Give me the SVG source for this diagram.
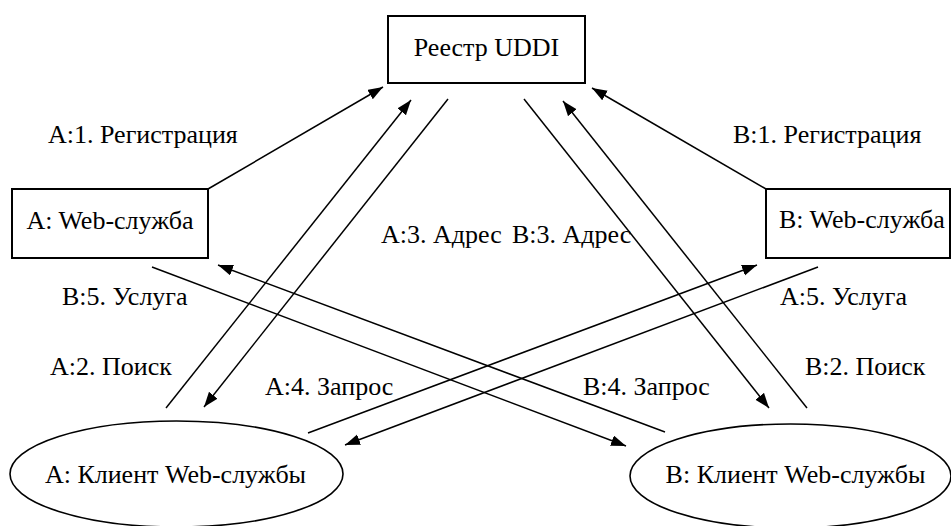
<svg xmlns="http://www.w3.org/2000/svg" width="951" height="526" viewBox="0 0 951 526">
<style>
.box{fill:#fff;stroke:#000;stroke-width:2}
.ell{fill:#fff;stroke:#000;stroke-width:1.6}
.ln{stroke:#000;stroke-width:1.5;fill:none;marker-end:url(#ah)}
text{font-family:"Liberation Serif","Times New Roman",serif;font-size:26px;fill:#000}
.c{text-anchor:middle}
</style>
<defs>
<marker id="ah" markerUnits="userSpaceOnUse" markerWidth="16" markerHeight="12" refX="15" refY="5.5" orient="auto">
<path d="M0,0 L15,5.5 L0,11 z" fill="#000"/>
</marker>
</defs>
<g id="connectors">
<line class="ln" x1="208" y1="189" x2="383" y2="87"/>
<line class="ln" x1="766" y1="189" x2="592" y2="88"/>
<line class="ln" x1="166" y1="408" x2="411" y2="100"/>
<line class="ln" x1="448" y1="99" x2="204" y2="407"/>
<line class="ln" x1="524" y1="99" x2="769" y2="408"/>
<line class="ln" x1="807" y1="408" x2="563" y2="101"/>
<line class="ln" x1="152" y1="267" x2="626" y2="446"/>
<line class="ln" x1="665" y1="432" x2="218" y2="265"/>
<line class="ln" x1="308" y1="433" x2="757" y2="265"/>
<line class="ln" x1="818" y1="267" x2="345" y2="445"/>
<text x="48" y="143">A:1. Регистрация</text>
<text x="733" y="143">B:1. Регистрация</text>
<text x="381" y="243">A:3. Адрес</text>
<text x="512" y="243">B:3. Адрес</text>
<text x="62" y="305">B:5. Услуга</text>
<text x="780" y="305">A:5. Услуга</text>
<text x="50" y="375">A:2. Поиск</text>
<text x="805" y="375">B:2. Поиск</text>
<text x="265" y="395">A:4. Запрос</text>
<text x="583" y="395">B:4. Запрос</text>
</g>
<g id="registry">
<rect class="box" x="388" y="16" width="197" height="67"/>
<text class="c" x="486.5" y="56">Реестр UDDI</text>
</g>
<g id="serviceA">
<rect class="box" x="12" y="189" width="196" height="69"/>
<text class="c" x="110" y="229">A: Web-служба</text>
</g>
<g id="serviceB">
<rect class="box" x="766" y="189" width="184" height="69"/>
<text x="779" y="228">B: Web-служба</text>
</g>
<g id="clientA">
<ellipse class="ell" cx="176.5" cy="474" rx="166.5" ry="53"/>
<text class="c" x="175.5" y="483">A: Клиент Web-службы</text>
</g>
<g id="clientB">
<ellipse class="ell" cx="790.5" cy="476" rx="160.5" ry="52"/>
<text class="c" x="795.5" y="483">B: Клиент Web-службы</text>
</g>
</svg>
